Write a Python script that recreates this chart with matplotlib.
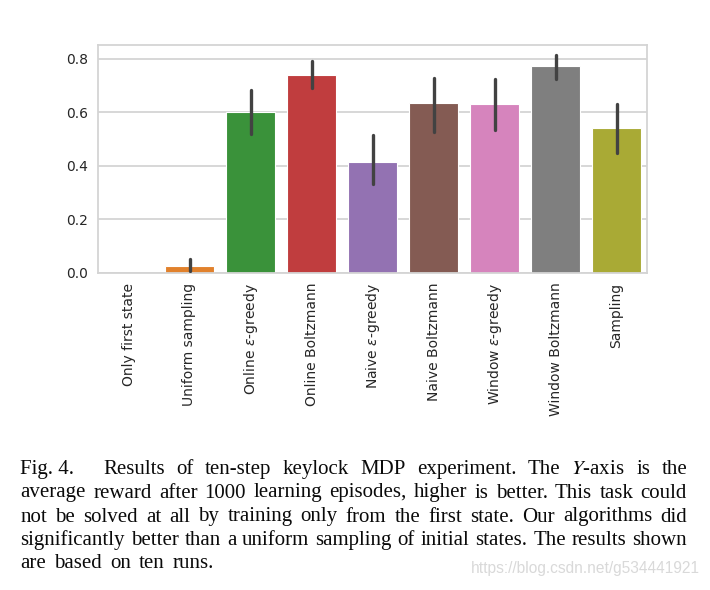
import matplotlib
matplotlib.use('Agg')
import matplotlib.pyplot as plt
import seaborn as sns

# Keylock MDP results: mean reward after 1000 episodes, with CI ends
methods = ['Only first state', 'Uniform sampling', r'Online $\epsilon$-greedy',
           'Online Boltzmann', r'Naive $\epsilon$-greedy', 'Naive Boltzmann',
           r'Window $\epsilon$-greedy', 'Window Boltzmann', 'Sampling']
mean_reward = [0.0, 0.028, 0.602, 0.740, 0.414, 0.634, 0.630, 0.772, 0.541]
ci_low = [0.0, 0.009, 0.518, 0.693, 0.331, 0.526, 0.535, 0.725, 0.450]
ci_high = [0.0, 0.051, 0.684, 0.793, 0.516, 0.728, 0.724, 0.815, 0.632]
yticks = [0.0, 0.2, 0.4, 0.6, 0.8]

caption_label = 'Fig. 4.'
caption_lines = [
    'Results of ten-step keylock MDP experiment. The $Y$-axis is the',
    'average reward after 1000 learning episodes, higher is better. This task could',
    'not be solved at all by training only from the first state. Our algorithms did',
    'significantly better than a uniform sampling of initial states. The results shown',
    'are based on ten runs.',
]
watermark = 'https://blog.csdn.net/g534441921'

sns.set_style('whitegrid')
W, H = 710, 590
fig = plt.figure(figsize=(W / 100, H / 100), dpi=100)
ax = fig.add_axes([98 / W, 1 - 273 / H, 549 / W, 228 / H])

colors = sns.color_palette('tab10', len(methods), desat=0.75)
x = list(range(len(methods)))
ax.bar(x, mean_reward, width=0.8, color=colors, edgecolor='white',
       linewidth=0.8, zorder=2)
for xi, lo, hi in zip(x, ci_low, ci_high):
    if hi > lo:
        ax.plot([xi, xi], [lo, hi], color='#424242', lw=2.4,
                solid_capstyle='round', zorder=3)

ax.set_xlim(-0.5, len(methods) - 0.5)
ax.set_ylim(0, 0.852)
ax.set_yticks(yticks)
ax.set_yticklabels(['%.1f' % v for v in yticks])
ax.set_xticks(x)
ax.set_xticklabels(methods, rotation=90)
ax.grid(axis='x', visible=False)
ax.grid(axis='y', color='#d4d4d4', lw=1.3)
ax.set_axisbelow(True)
ax.tick_params(axis='both', length=0, labelsize=10, labelcolor='#262626')
ax.tick_params(axis='x', pad=7)
ax.tick_params(axis='y', pad=7)
for sp in ax.spines.values():
    sp.set_color('#d4d4d4')
    sp.set_linewidth(1.3)

# caption, justified like the paper
fig.canvas.draw()
rend = fig.canvas.get_renderer()
cap_fs = 15
x0, x1 = 20.5, 687.0
baselines = [474, 497.5, 521.5, 545, 568.5]
last_gap = 8.0
for i, line in enumerate(caption_lines):
    words = line.split(' ')
    extra = 0.0
    if i == 0:
        words = [caption_label] + words
        extra = 18.0
    texts = []
    for w in words:
        t = fig.text(0, 1 - baselines[i] / H, w, family='Liberation Serif',
                     fontsize=cap_fs, color='#0a0a0a', va='baseline',
                     math_fontfamily='stix')
        texts.append(t)
    widths = [t.get_window_extent(rend).width for t in texts]
    if i < len(caption_lines) - 1:
        gap = (x1 - x0 - sum(widths) - extra) / (len(words) - 1)
    else:
        gap = last_gap
    pos = x0
    for k, (t, w) in enumerate(zip(texts, widths)):
        t.set_x(pos / W)
        pos += w + gap
        if k == 0:
            pos += extra

fig.text(700 / W, 1 - 568 / H, watermark, family='Liberation Sans',
         fontsize=11.2, color='#d9d9d9', ha='right', va='center')

fig.savefig('out.png', dpi=100)
